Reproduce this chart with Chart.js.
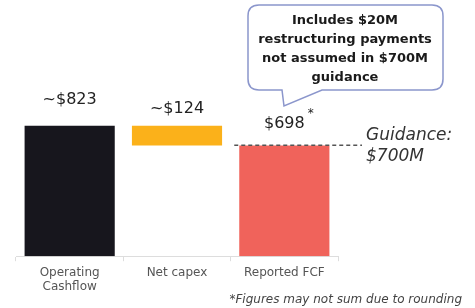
<!DOCTYPE html>
<html>
<head>
<meta charset="utf-8">
<script src="https://cdn.jsdelivr.net/npm/chart.js@4"></script>
<style>
  html, body { margin: 0; padding: 0; background: #fff; }
  #wrap { width: 475px; height: 308px; position: relative; }
</style>
</head>
<body>
<div id="wrap"><canvas id="fcf"></canvas></div>
<script>
const categories = [["Operating", "Cashflow"], "Net capex", "Reported FCF"];
const barStarts = [0, 699, 0];
const barEnds = [823, 823, 698];
const barLabels = ["~$823", "~$124", "$698"];
const barColors = ["#17161d", "#fbb11a", "#f0635b"];
const guidanceValue = 700;
const guidanceText = ["Guidance:", "$700M"];
const calloutText = ["Includes $20M", "restructuring payments", "not assumed in $700M", "guidance"];
const footnote = "*Figures may not sum due to rounding";

const FONT = "'DejaVu Sans', sans-serif";

// labels above bars, guidance line, callout box, footnote
const extras = {
  id: 'extras',
  afterDatasetsDraw(chart) {
    const c = chart.ctx;
    const meta = chart.getDatasetMeta(0);
    const y = chart.scales.y;
    c.save();
    c.fillStyle = '#222';
    c.textAlign = 'center';
    c.textBaseline = 'middle';
    c.font = '16px ' + FONT;
    const gaps = [26, 17, 22];
    meta.data.forEach(function (bar, i) {
      c.fillText(barLabels[i], bar.x, bar.y - gaps[i]);
    });
    // asterisk on $698
    const b2 = meta.data[2];
    const w = c.measureText(barLabels[2]).width;
    c.font = '12px ' + FONT;
    c.textAlign = 'left';
    c.fillText('*', b2.x + w / 2 + 3, b2.y - 32);

    // guidance dashed line
    const gy = y.getPixelForValue(guidanceValue);
    c.strokeStyle = '#555';
    c.lineWidth = 1.5;
    c.setLineDash([4, 3]);
    c.beginPath();
    c.moveTo(b2.x - b2.width / 2 - 5, gy);
    c.lineTo(362, gy);
    c.stroke();
    c.setLineDash([]);
    c.font = 'italic 17px ' + FONT;
    c.fillStyle = '#333';
    c.textAlign = 'left';
    c.fillText(guidanceText[0], 366, gy - 10);
    c.fillText(guidanceText[1], 366, gy + 11);

    // callout
    const L = 248, R = 443, T = 5, B = 90, r = 11;
    c.beginPath();
    c.moveTo(L + r, T);
    c.lineTo(R - r, T);
    c.quadraticCurveTo(R, T, R, T + r);
    c.lineTo(R, B - r);
    c.quadraticCurveTo(R, B, R - r, B);
    c.lineTo(322, B);
    c.lineTo(284, 106);
    c.lineTo(282, B);
    c.lineTo(L + r, B);
    c.quadraticCurveTo(L, B, L, B - r);
    c.lineTo(L, T + r);
    c.quadraticCurveTo(L, T, L + r, T);
    c.closePath();
    c.fillStyle = '#fff';
    c.fill();
    c.strokeStyle = '#8b96cc';
    c.lineWidth = 1.5;
    c.stroke();
    c.fillStyle = '#1a1a1a';
    c.font = 'bold 13px ' + FONT;
    c.textAlign = 'center';
    calloutText.forEach(function (t, i) {
      c.fillText(t, 345, 21 + i * 19);
    });

    // footnote
    c.font = 'italic 12px ' + FONT;
    c.fillStyle = '#444';
    c.textAlign = 'right';
    c.fillText(footnote, 462, 300);
    c.restore();
  }
};

new Chart(document.getElementById('fcf'), {
  type: 'bar',
  data: {
    labels: categories,
    datasets: [{
      data: barStarts.map(function (s, i) { return [s, barEnds[i]]; }),
      backgroundColor: barColors,
      borderWidth: 0,
      barPercentage: 0.84,
      categoryPercentage: 1
    }]
  },
  options: {
    responsive: true,
    maintainAspectRatio: false,
    animation: false,
    layout: { padding: { left: 16, right: 137, top: 20, bottom: 10 } },
    plugins: { legend: { display: false }, tooltip: { enabled: false } },
    scales: {
      y: { display: false, min: 0, max: 1490 },
      x: {
        border: { color: '#ddd', width: 1 },
        grid: { drawOnChartArea: false, drawTicks: true, tickLength: 5, color: '#ddd', offset: true },
        ticks: { color: '#555', font: { family: FONT, size: 12 }, padding: 4 }
      }
    }
  },
  plugins: [extras]
});
</script>
</body>
</html>
